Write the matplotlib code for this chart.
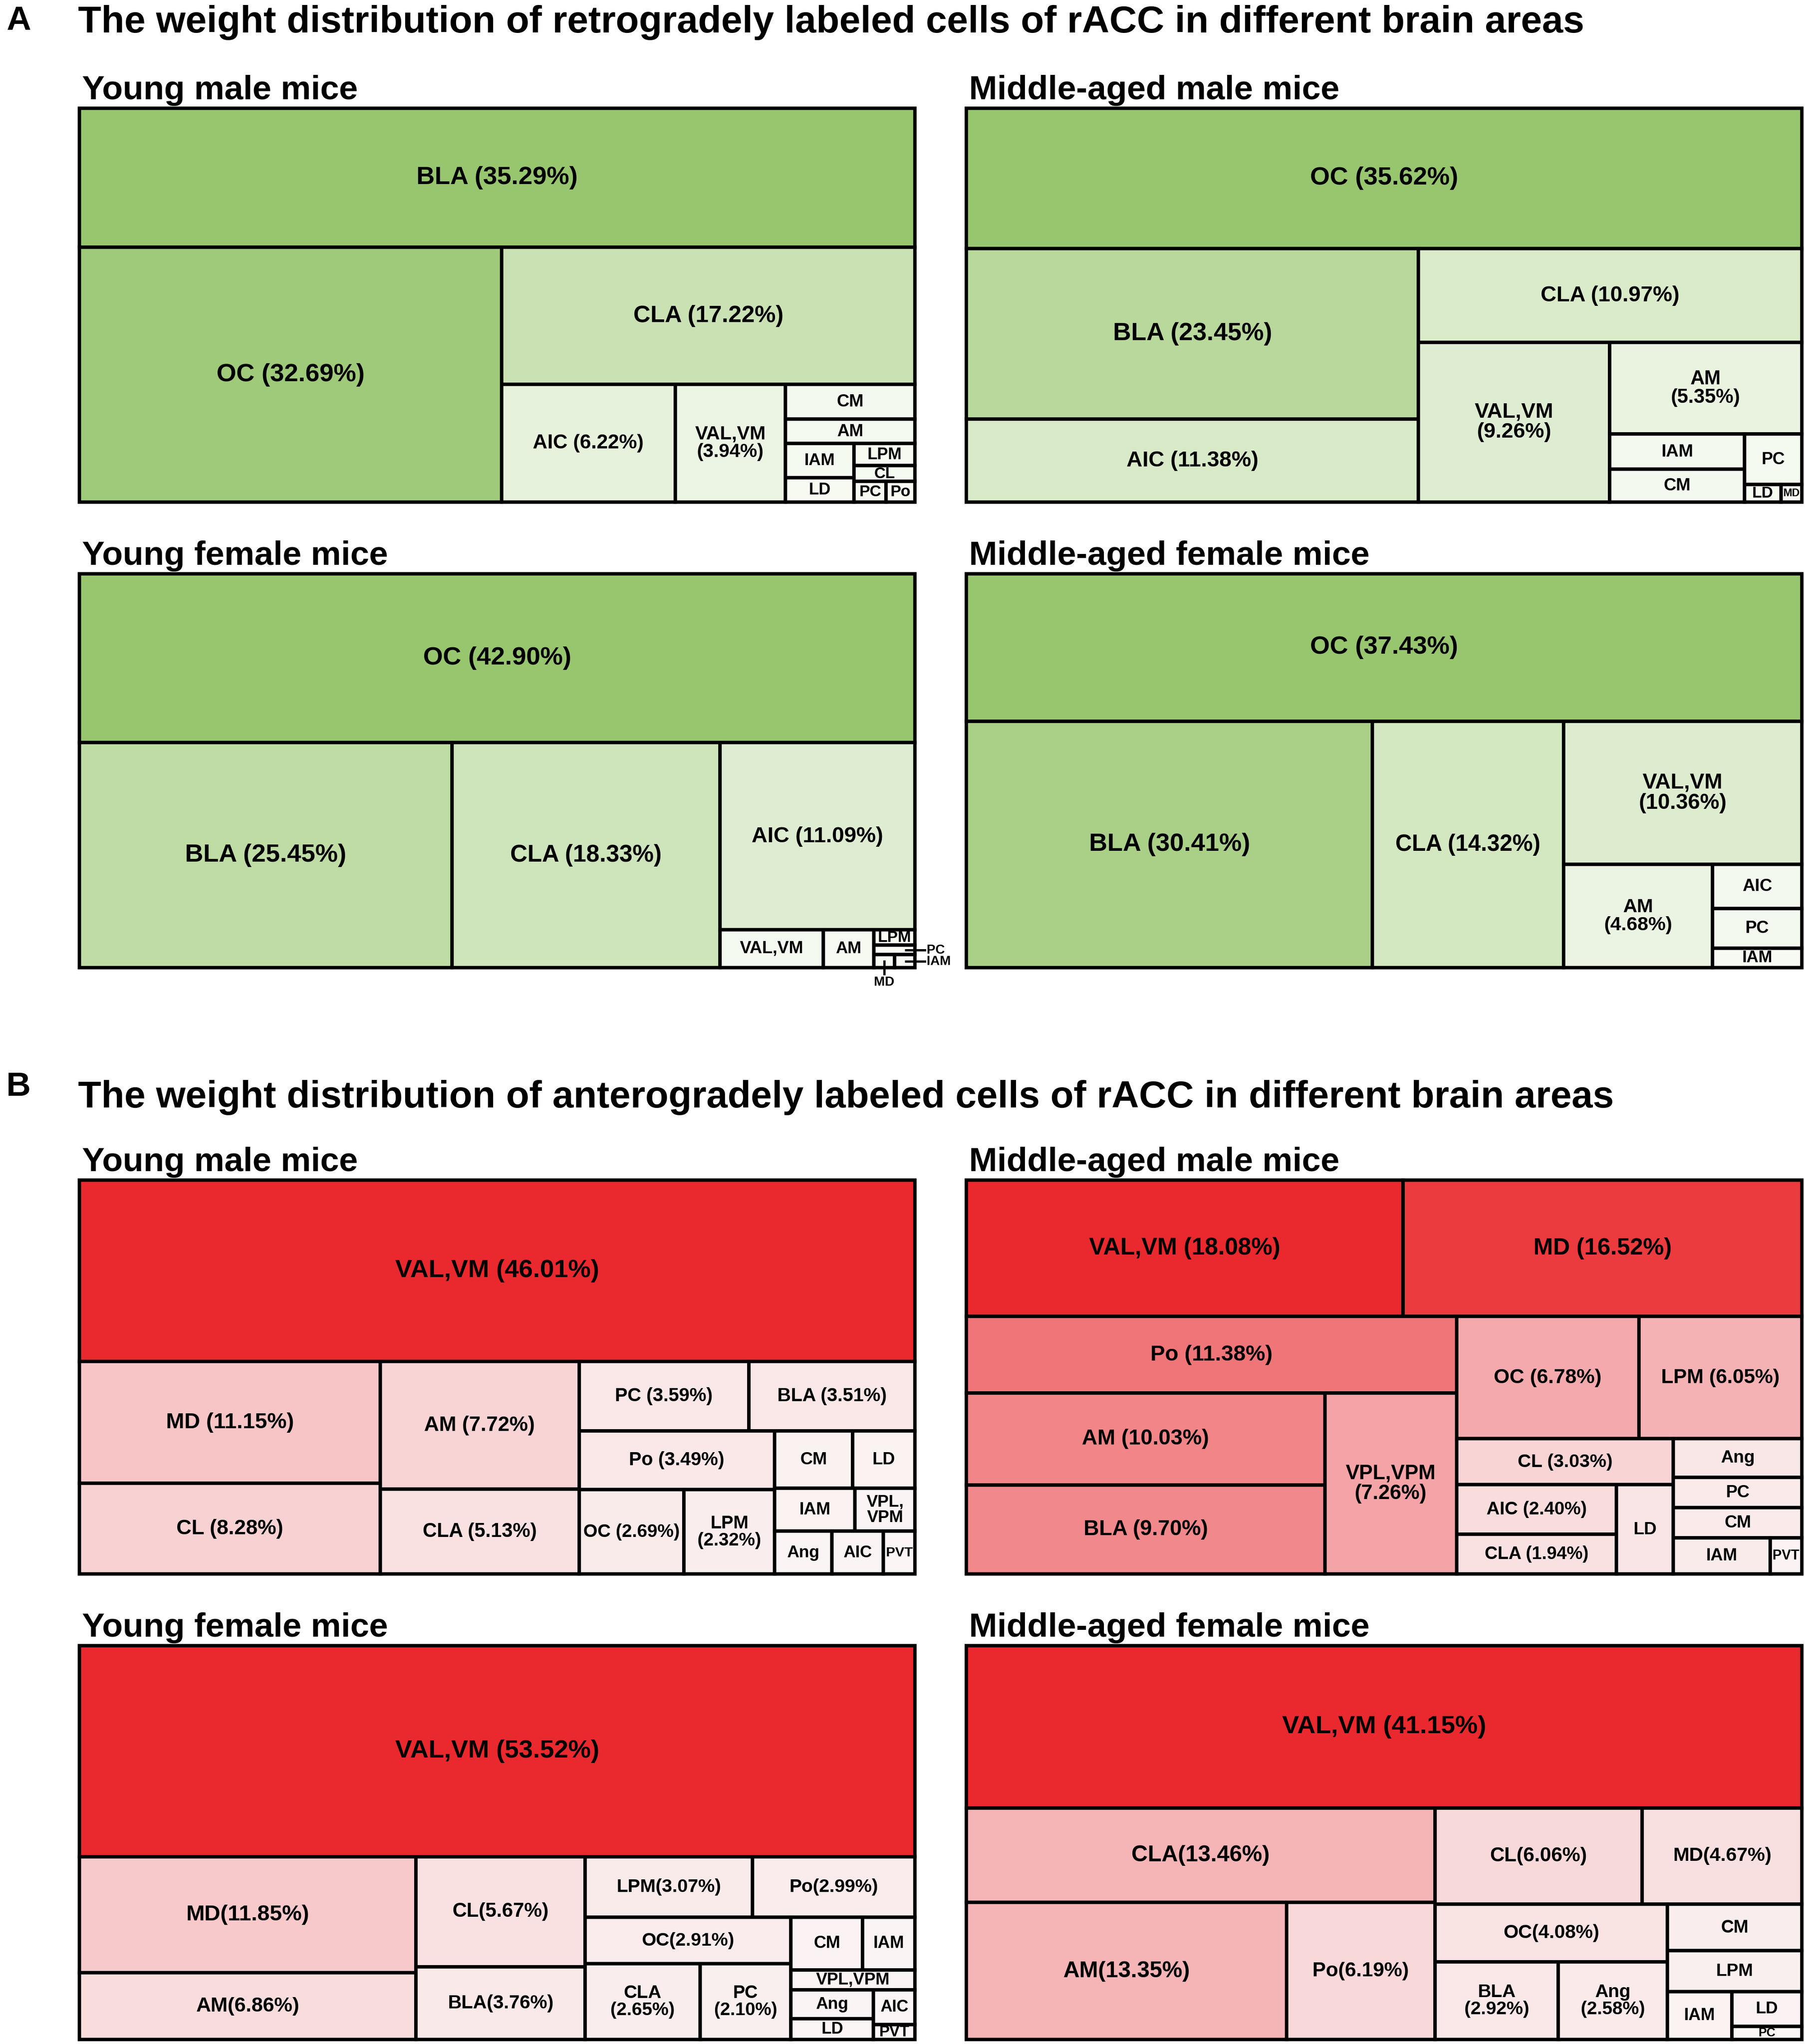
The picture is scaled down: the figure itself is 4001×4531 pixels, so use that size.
import matplotlib
matplotlib.use('Agg')
import numpy as np
import matplotlib.pyplot as plt
from matplotlib.patches import Rectangle

plt.rcParams['font.family'] = ['Liberation Sans', 'DejaVu Sans']

# ---- data: retrograde (green) ----
ret_ym_names = ['BLA', 'OC', 'CLA', 'AIC', 'VAL,VM', 'CM', 'AM', 'IAM', 'LD', 'LPM', 'CL', 'PC', 'Po']
ret_ym_values = [35.29, 32.69, 17.22, 6.22, 3.94, 1.38, 0.96, 0.71, 0.51, 0.41, 0.29, 0.20, 0.18]
ret_ym_labels = ['BLA (35.29%)', 'OC (32.69%)', 'CLA (17.22%)', 'AIC (6.22%)', 'VAL,VM\n(3.94%)',
                 'CM', 'AM', 'IAM', 'LD', 'LPM', 'CL', 'PC', 'Po']
ret_ym_tree = ('v', ['BLA', ('h', ['OC', ('v', ['CLA', ('h', ['AIC', 'VAL,VM', ('v', ['CM', 'AM', ('h', [
    ('v', ['IAM', 'LD']), ('v', ['LPM', 'CL', ('h', ['PC', 'Po'])])])])])])])])

ret_mm_names = ['OC', 'BLA', 'AIC', 'CLA', 'VAL,VM', 'AM', 'IAM', 'CM', 'PC', 'LD', 'MD']
ret_mm_values = [35.62, 23.45, 11.38, 10.97, 9.26, 5.35, 1.45, 1.34, 0.88, 0.19, 0.11]
ret_mm_labels = ['OC (35.62%)', 'BLA (23.45%)', 'AIC (11.38%)', 'CLA (10.97%)', 'VAL,VM\n(9.26%)',
                 'AM\n(5.35%)', 'IAM', 'CM', 'PC', 'LD', 'MD']
ret_mm_tree = ('v', ['OC', ('h', [('v', ['BLA', 'AIC']), ('v', ['CLA', ('h', ['VAL,VM', ('v', ['AM', ('h', [
    ('v', ['IAM', 'CM']), ('v', ['PC', ('h', ['LD', 'MD'])])])])])])])])

ret_yf_names = ['OC', 'BLA', 'CLA', 'AIC', 'VAL,VM', 'AM', 'LPM', 'PC', 'MD', 'IAM']
ret_yf_values = [42.90, 25.45, 18.33, 11.09, 1.18, 0.58, 0.19, 0.12, 0.08, 0.08]
ret_yf_labels = ['OC (42.90%)', 'BLA (25.45%)', 'CLA (18.33%)', 'AIC (11.09%)', 'VAL,VM', 'AM', 'LPM', '', '', '']
ret_yf_callouts = {'PC': 'right', 'IAM': 'right', 'MD': 'below'}
ret_yf_tree = ('v', ['OC', ('h', ['BLA', 'CLA', ('v', ['AIC', ('h', ['VAL,VM', 'AM', ('v', [
    'LPM', 'PC', ('h', ['MD', 'IAM'])])])])])])

ret_mf_names = ['OC', 'BLA', 'CLA', 'VAL,VM', 'AM', 'AIC', 'PC', 'IAM']
ret_mf_values = [37.43, 30.41, 14.32, 10.36, 4.68, 1.20, 1.07, 0.53]
ret_mf_labels = ['OC (37.43%)', 'BLA (30.41%)', 'CLA (14.32%)', 'VAL,VM\n(10.36%)', 'AM\n(4.68%)', 'AIC', 'PC', 'IAM']
ret_mf_tree = ('v', ['OC', ('h', ['BLA', 'CLA', ('v', ['VAL,VM', ('h', ['AM', ('v', ['AIC', 'PC', 'IAM'])])])])])

# ---- data: anterograde (red) ----
ant_ym_names = ['VAL,VM', 'MD', 'CL', 'AM', 'CLA', 'PC', 'BLA', 'Po', 'OC', 'LPM',
                'CM', 'LD', 'IAM', 'VPL,VPM', 'Ang', 'AIC', 'PVT']
ant_ym_values = [46.01, 11.15, 8.28, 7.72, 5.13, 3.59, 3.51, 3.49, 2.69, 2.32,
                 1.36, 1.09, 1.05, 0.78, 0.75, 0.67, 0.41]
ant_ym_labels = ['VAL,VM (46.01%)', 'MD (11.15%)', 'CL (8.28%)', 'AM (7.72%)', 'CLA (5.13%)', 'PC (3.59%)',
                 'BLA (3.51%)', 'Po (3.49%)', 'OC (2.69%)', 'LPM\n(2.32%)',
                 'CM', 'LD', 'IAM', 'VPL,\nVPM', 'Ang', 'AIC', 'PVT']
ant_ym_tree = ('v', ['VAL,VM', ('h', [('v', ['MD', 'CL']), ('v', ['AM', 'CLA']), ('v', [
    ('h', ['PC', 'BLA']), ('h', [('v', ['Po', ('h', ['OC', 'LPM'])]), ('v', [
        ('h', ['CM', 'LD']), ('h', ['IAM', 'VPL,VPM']), ('h', ['Ang', 'AIC', 'PVT'])])])])])])

ant_mm_names = ['VAL,VM', 'MD', 'Po', 'AM', 'BLA', 'VPL,VPM', 'OC', 'LPM', 'CL', 'AIC',
                'CLA', 'LD', 'Ang', 'PC', 'CM', 'IAM', 'PVT']
ant_mm_values = [18.08, 16.52, 11.38, 10.03, 9.70, 7.26, 6.78, 6.05, 3.03, 2.40,
                 1.94, 1.55, 1.51, 1.18, 1.17, 1.07, 0.35]
ant_mm_labels = ['VAL,VM (18.08%)', 'MD (16.52%)', 'Po (11.38%)', 'AM (10.03%)', 'BLA (9.70%)',
                 'VPL,VPM\n(7.26%)', 'OC (6.78%)', 'LPM (6.05%)', 'CL (3.03%)', 'AIC (2.40%)',
                 'CLA (1.94%)', 'LD', 'Ang', 'PC', 'CM', 'IAM', 'PVT']
ant_mm_tree = ('v', [('h', ['VAL,VM', 'MD']), ('h', [('v', ['Po', ('h', [('v', ['AM', 'BLA']), 'VPL,VPM'])]), ('v', [
    ('h', ['OC', 'LPM']), ('h', [('v', ['CL', ('h', [('v', ['AIC', 'CLA']), 'LD'])]),
                                ('v', ['Ang', 'PC', 'CM', ('h', ['IAM', 'PVT'])])])])])])

ant_yf_names = ['VAL,VM', 'MD', 'AM', 'CL', 'BLA', 'LPM', 'Po', 'OC', 'CLA', 'PC',
                'CM', 'IAM', 'VPL,VPM', 'Ang', 'LD', 'AIC', 'PVT']
ant_yf_values = [53.52, 11.85, 6.86, 5.67, 3.76, 3.07, 2.99, 2.91, 2.65, 2.10,
                 1.15, 0.84, 0.75, 0.73, 0.52, 0.44, 0.19]
ant_yf_labels = ['VAL,VM (53.52%)', 'MD(11.85%)', 'AM(6.86%)', 'CL(5.67%)', 'BLA(3.76%)', 'LPM(3.07%)',
                 'Po(2.99%)', 'OC(2.91%)', 'CLA\n(2.65%)', 'PC\n(2.10%)',
                 'CM', 'IAM', 'VPL,VPM', 'Ang', 'LD', 'AIC', 'PVT']
ant_yf_tree = ('v', ['VAL,VM', ('h', [('v', ['MD', 'AM']), ('v', ['CL', 'BLA']), ('v', [
    ('h', ['LPM', 'Po']), ('h', [('v', ['OC', ('h', ['CLA', 'PC'])]), ('v', [
        ('h', ['CM', 'IAM']), 'VPL,VPM', ('h', [('v', ['Ang', 'LD']), ('v', ['AIC', 'PVT'])])])])])])])

ant_mf_names = ['VAL,VM', 'CLA', 'AM', 'Po', 'CL', 'MD', 'OC', 'BLA', 'Ang', 'CM', 'LPM', 'IAM', 'LD', 'PC']
ant_mf_values = [41.15, 13.46, 13.35, 6.19, 6.06, 4.67, 4.08, 2.92, 2.58, 1.90, 1.68, 0.94, 0.74, 0.28]
ant_mf_labels = ['VAL,VM (41.15%)', 'CLA(13.46%)', 'AM(13.35%)', 'Po(6.19%)', 'CL(6.06%)', 'MD(4.67%)',
                 'OC(4.08%)', 'BLA\n(2.92%)', 'Ang\n(2.58%)', 'CM', 'LPM', 'IAM', 'LD', 'PC']
ant_mf_tree = ('v', ['VAL,VM', ('h', [('v', ['CLA', ('h', ['AM', 'Po'])]), ('v', [
    ('h', ['CL', 'MD']), ('h', [('v', ['OC', ('h', ['BLA', 'Ang'])]), ('v', [
        'CM', 'LPM', ('h', ['IAM', ('v', ['LD', 'PC'])])])])])])])

GREEN = (np.array([247, 251, 243]), np.array([152, 198, 111]))
RED = (np.array([251, 247, 247]), np.array([233, 41, 46]))

panels = [
    (0, 0, 'Young male mice', ret_ym_names, ret_ym_values, ret_ym_labels, ret_ym_tree, GREEN, {}),
    (0, 1, 'Middle-aged male mice', ret_mm_names, ret_mm_values, ret_mm_labels, ret_mm_tree, GREEN, {}),
    (1, 0, 'Young female mice', ret_yf_names, ret_yf_values, ret_yf_labels, ret_yf_tree, GREEN, ret_yf_callouts),
    (1, 1, 'Middle-aged female mice', ret_mf_names, ret_mf_values, ret_mf_labels, ret_mf_tree, GREEN, {}),
    (2, 0, 'Young male mice', ant_ym_names, ant_ym_values, ant_ym_labels, ant_ym_tree, RED, {}),
    (2, 1, 'Middle-aged male mice', ant_mm_names, ant_mm_values, ant_mm_labels, ant_mm_tree, RED, {}),
    (3, 0, 'Young female mice', ant_yf_names, ant_yf_values, ant_yf_labels, ant_yf_tree, RED, {}),
    (3, 1, 'Middle-aged female mice', ant_mf_names, ant_mf_values, ant_mf_labels, ant_mf_tree, RED, {}),
]


def subtotal(node, vals):
    if isinstance(node, str):
        return vals[node]
    return sum(subtotal(k, vals) for k in node[1])


def place(node, vals, x, y, w, h, out):
    # slice-and-dice: 'v' stacks children top to bottom, 'h' puts them side by side
    if isinstance(node, str):
        out[node] = (x, y, w, h)
        return
    d, kids = node
    s = subtotal(node, vals)
    for k in kids:
        f = subtotal(k, vals) / s
        if d == 'v':
            place(k, vals, x, y, w, h * f, out)
            y += h * f
        else:
            place(k, vals, x, y, w * f, h, out)
            x += w * f


DPI = 300
fig = plt.figure(figsize=(4001.3 / DPI, 4531.3 / DPI), dpi=DPI)
renderer = fig.canvas.get_renderer()

# reference measured at 1384 px wide
DW = 1384.0
DH = 4531 / (4001 / DW)
col_x = [61, 741]
row_top = [83, 440, 905, 1262]
pw, ph = 640.5, 302
LW = 1.8
lw_px = LW * DPI / 72

fig.text(5 / DW, 1 - 23 / DH, 'A', fontsize=18, fontweight='bold', va='baseline')
fig.text(60 / DW, 1 - 25 / DH, 'The weight distribution of retrogradely labeled cells of rACC in different brain areas',
         fontsize=20.2, fontweight='bold', va='baseline')
fig.text(5 / DW, 1 - 840 / DH, 'B', fontsize=18, fontweight='bold', va='baseline')
fig.text(60 / DW, 1 - 849 / DH, 'The weight distribution of anterogradely labeled cells of rACC in different brain areas',
         fontsize=20.2, fontweight='bold', va='baseline')

for row, col, title, names, values, labels, tree, pal, callouts in panels:
    x0, top = col_x[col], row_top[row]
    ax = fig.add_axes([x0 / DW, 1 - (top + ph) / DH, pw / DW, ph / DH])
    ax.set_xlim(0, 1)
    ax.set_ylim(1, 0)
    ax.axis('off')
    fig.text((x0 + 2) / DW, 1 - (top - 7) / DH, title, fontsize=18, fontweight='bold', va='baseline')

    vals = dict(zip(names, values))
    vmax = max(values)
    rects = {}
    place(tree, vals, 0, 0, 1, 1, rects)
    light, dark = pal
    for name, v, lab in zip(names, values, labels):
        x, y, w, h = rects[name]
        c = (light + (v / vmax) * (dark - light)) / 255
        ax.add_patch(Rectangle((x, y), w, h, facecolor=c, edgecolor='black', linewidth=LW, clip_on=False))
        if lab:
            fs0 = min(13.5, 8 + 1.1 * np.sqrt(v))
            t = ax.text(x + w / 2, y + h / 2, lab, ha='center', va='center', fontsize=fs0,
                        fontweight='bold', linespacing=1.0)
            bb = t.get_window_extent(renderer)
            p0 = ax.transData.transform((x, y))
            p1 = ax.transData.transform((x + w, y + h))
            cw = abs(p1[0] - p0[0]) - lw_px
            ch = abs(p1[1] - p0[1]) - lw_px
            s = min(1.0, 0.95 * cw / bb.width, 1.25 * ch / bb.height)
            t.set_fontsize(fs0 * s)
        if name in callouts:
            cy = y + h / 2
            if callouts[name] == 'right':
                ax.plot([0.989, 1.012], [cy, cy], color='black', lw=1.2, clip_on=False)
                ax.text(1.014, cy, name, ha='left', va='center', fontsize=7, fontweight='bold')
            else:
                cx = x + w / 2
                ax.plot([cx, cx], [cy, 1.016], color='black', lw=1.2, clip_on=False)
                ax.text(cx, 1.02, name, ha='center', va='top', fontsize=7, fontweight='bold')

fig.savefig('out.png', dpi=DPI, facecolor='white')
